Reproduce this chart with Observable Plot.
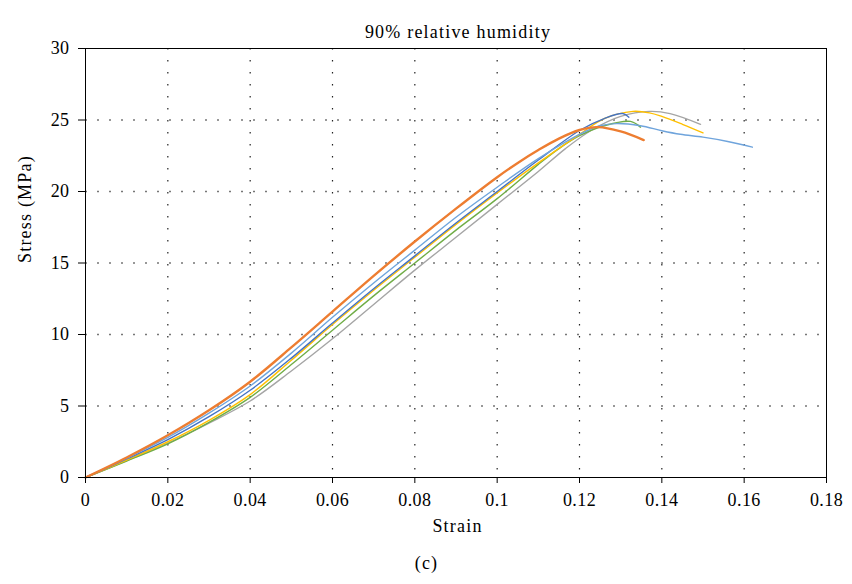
<!DOCTYPE html>
<html>
<head>
<meta charset="utf-8">
<script src="https://cdn.jsdelivr.net/npm/d3@7"></script>
<script src="https://cdn.jsdelivr.net/npm/@observablehq/plot@0.6"></script>
<style>
  html, body { margin: 0; padding: 0; background: #fff; }
  #chart svg { display: block; }
</style>
</head>
<body>
<div id="chart"></div>
<script>
// ---- Data ----
const titleText = "90% relative humidity";
const xLabel = "Strain";
const yLabel = "Stress (MPa)";
const captionText = "(c)";

const xTicks = [0, 0.02, 0.04, 0.06, 0.08, 0.1, 0.12, 0.14, 0.16, 0.18];
const yTicks = [0, 5, 10, 15, 20, 25, 30];

const seriesNames = ["Grey", "Green", "Yellow", "DarkBlue", "LightBlue", "Orange"];
const seriesColors = ["#A5A5A5", "#70AD47", "#FFC000", "#4472C4", "#6FA4DC", "#ED7D31"];

const strainGrey = [0, 0.01, 0.02, 0.03, 0.04, 0.05, 0.06, 0.07, 0.08, 0.09, 0.1, 0.11, 0.1166, 0.123, 0.13, 0.137, 0.142, 0.1494];
const stressGrey = [0, 1.18, 2.4, 3.8, 5.35, 7.45, 9.7, 12.1, 14.5, 16.8, 19.1, 21.4, 23.0, 24.3, 25.25, 25.6, 25.45, 24.7];

const strainGreen = [0, 0.01, 0.02, 0.03, 0.04, 0.05, 0.06, 0.07, 0.08, 0.09, 0.1, 0.11, 0.115, 0.12, 0.126, 0.1324, 0.1348];
const stressGreen = [0, 1.15, 2.35, 3.85, 5.6, 7.9, 10.3, 12.7, 15.0, 17.3, 19.5, 21.9, 23.0, 23.9, 24.6, 24.9, 24.5];

const strainYellow = [0, 0.01, 0.02, 0.03, 0.04, 0.05, 0.06, 0.07, 0.08, 0.09, 0.1, 0.11, 0.12, 0.126, 0.133, 0.137, 0.14, 0.145, 0.15];
const stressYellow = [0, 1.22, 2.5, 4.0, 5.8, 8.2, 10.7, 13.1, 15.4, 17.7, 19.9, 22.0, 24.0, 25.1, 25.6, 25.5, 25.25, 24.7, 24.1];

const strainDarkBlue = [0, 0.01, 0.02, 0.03, 0.04, 0.05, 0.06, 0.07, 0.08, 0.09, 0.1, 0.11, 0.1202, 0.126, 0.1305, 0.132];
const stressDarkBlue = [0, 1.3, 2.65, 4.25, 6.1, 8.35, 10.8, 13.2, 15.5, 17.8, 20.0, 22.2, 24.3, 25.1, 25.45, 25.2];

const strainLightBlue = [0, 0.01, 0.02, 0.03, 0.04, 0.05, 0.06, 0.07, 0.08, 0.09, 0.1, 0.11, 0.12, 0.125, 0.129, 0.1348, 0.14, 0.1445, 0.15, 0.156, 0.162];
const stressLightBlue = [0, 1.35, 2.8, 4.5, 6.4, 8.7, 11.2, 13.6, 15.9, 18.2, 20.3, 22.3, 24.0, 24.6, 24.75, 24.6, 24.25, 24.0, 23.8, 23.5, 23.1];

const strainOrange = [0, 0.01, 0.02, 0.03, 0.04, 0.05, 0.06, 0.07, 0.08, 0.09, 0.1, 0.105, 0.11, 0.115, 0.12, 0.1245, 0.13, 0.1356];
const stressOrange = [0, 1.4, 2.95, 4.7, 6.7, 9.1, 11.6, 14.1, 16.5, 18.8, 21.0, 22.0, 22.9, 23.7, 24.3, 24.5, 24.2, 23.6];

// ---- Build table ----
const seriesStrain = [strainGrey, strainGreen, strainYellow, strainDarkBlue, strainLightBlue, strainOrange];
const seriesStress = [stressGrey, stressGreen, stressYellow, stressDarkBlue, stressLightBlue, stressOrange];
const rows = [];
seriesNames.forEach((name, i) => {
  seriesStrain[i].forEach((s, j) => rows.push({series: name, strain: s, stress: seriesStress[i][j]}));
});

const fmtX = d => d === 0 ? "0" : String(+d.toFixed(2));

const lineMarks = seriesNames.map((name, i) =>
  Plot.line(rows.filter(r => r.series === name), {
    x: "strain", y: "stress",
    stroke: seriesColors[i],
    strokeWidth: name === "Orange" ? 2.4 : 1.4,
    curve: "catmull-rom"
  })
);

const chart = Plot.plot({
  width: 852,
  height: 584,
  marginLeft: 85,
  marginRight: 26,
  marginTop: 48,
  marginBottom: 107,
  style: {fontFamily: "'Liberation Serif', 'DejaVu Serif', serif", fontSize: "18px", color: "#000", background: "#fff"},
  x: {domain: [0, 0.18]},
  y: {domain: [0, 30]},
  marks: [
    Plot.gridX(xTicks.slice(1, -1), {stroke: "#222", strokeOpacity: 1, strokeWidth: 1.2, strokeDasharray: "1.5,10.5"}),
    Plot.gridY(yTicks.slice(1, -1), {stroke: "#777", strokeOpacity: 1, strokeWidth: 1.5, strokeDasharray: "2,10"}),
    ...lineMarks,
    Plot.frame({stroke: "#000", strokeWidth: 1}),
    Plot.axisX(xTicks, {tickSize: 6, tickPadding: 10, tickFormat: fmtX, label: null, fontSize: 18}),
    Plot.axisY(yTicks, {tickSize: 7, tickPadding: 9, label: null, fontSize: 18}),
    Plot.text([titleText], {frameAnchor: "top", dx: 2, dy: -23.5, fontSize: 18}),
    Plot.text([xLabel], {frameAnchor: "bottom", dx: 1.5, dy: 54, fontSize: 18}),
    Plot.text([yLabel], {frameAnchor: "left", dx: -60, rotate: -90, fontSize: 18}),
    Plot.text([captionText], {frameAnchor: "bottom", dx: -29.5, dy: 91, fontSize: 18})
  ]
});
// wider letter spacing to approximate the reference's serif face
d3.select(chart).selectAll('g[aria-label="text"] text').style("letter-spacing", "1.2px");
d3.select(chart).selectAll('g[aria-label="x-axis tick label"] text, g[aria-label="y-axis tick label"] text').style("letter-spacing", "0.4px");
document.getElementById("chart").appendChild(chart);
</script>
</body>
</html>
